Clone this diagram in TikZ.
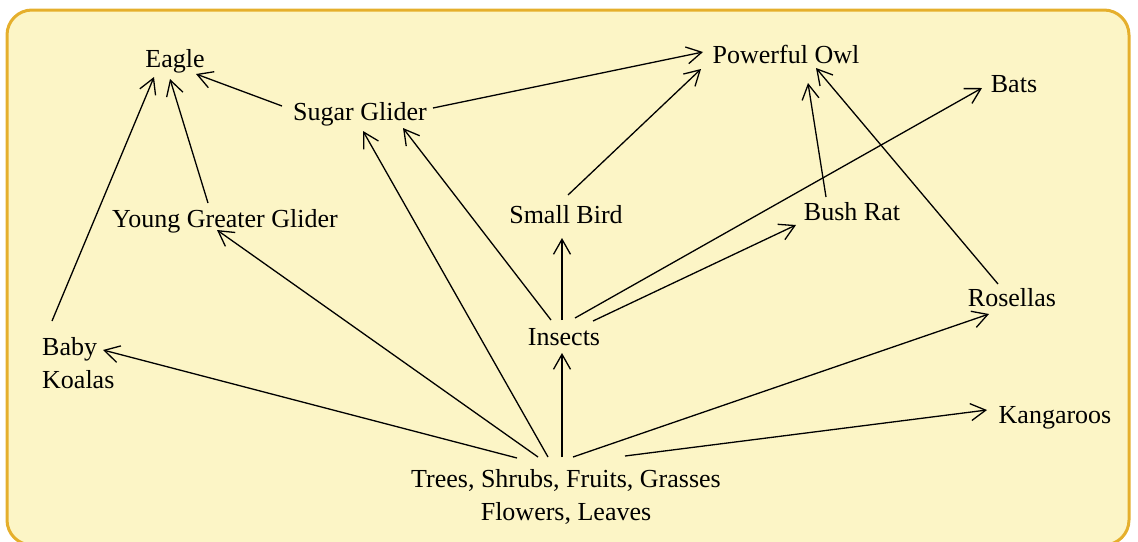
\documentclass[tikz,border=0pt]{standalone}
\usepackage{fontspec}
\setmainfont{Liberation Serif}
\usetikzlibrary{arrows.meta, calc}
\definecolor{fwfill}{HTML}{FCF5C6}
\definecolor{fwedge}{HTML}{E5AF2C}

\begin{document}
\begin{tikzpicture}[x=1pt, y=-1pt,
          lab/.style={font=\fontsize{26}{33}\selectfont, inner sep=0pt, anchor=base},
          arw/.style={-{Straight Barb[length=15pt,width=17pt]}, line width=1.3pt}]
        \clip (0,0) rectangle (1138,541);
        \draw[fwedge, fill=fwfill, line width=3pt, rounded corners=25pt] (7,10) rectangle (1129,545);
        \node[lab] (e) at (175,67) {Eagle};
        \node[lab] (sg) at (360,120) {Sugar Glider};
        \node[lab] (po) at (786,63) {Powerful Owl};
        \node[lab] (ba) at (1014,92) {Bats};
        \node[lab] (ygg) at (225,227) {Young Greater Glider};
        \node[lab] (sb) at (566,223) {Small Bird};
        \node[lab] (br) at (852,220) {Bush Rat};
        \node[lab] (ins) at (564,345) {Insects};
        \node[lab] (ro) at (1012,306) {Rosellas};
        \node[lab] (ka) at (1055,423) {Kangaroos};
        \node[lab, anchor=north west, align=left] (bk) at (42,337) {Baby\\Koalas};
        \node[lab, anchor=north, align=center] (tr) at (566,469) {Trees, Shrubs, Fruits, Grasses\\Flowers, Leaves};
        \draw[arw] ($(bk.north west)+(10,-16)$)--($(e.base)+(-21,10)$);
        \draw[arw] ($(ygg.base)+(-17,-24)$)--($(e.base)+(-5,12)$);
        \draw[arw] ($(sg.base)+(-78,-14)$)--($(e.base)+(21,7)$);
        \draw[arw] ($(sg.base)+(73,-12)$)--($(po.base)+(-83,-11)$);
        \draw[arw] ($(sb.base)+(2,-28)$)--($(po.base)+(-85,6)$);
        \draw[arw] ($(br.base)+(-26,-23)$)--($(po.base)+(22,20)$);
        \draw[arw] ($(ro.base)+(-14,-22)$)--($(po.base)+(30,5)$);
        \draw[arw] ($(ins.base)+(11,-27)$)--($(ba.base)+(-32,-4)$);
        \draw[arw] ($(ins.base)+(29,-24)$)--($(br.base)+(-56,5)$);
        \draw[arw] ($(ins.base)+(-2,-25)$)--($(sb.base)+(-4,15)$);
        \draw[arw] ($(ins.base)+(-13,-25)$)--($(sg.base)+(43,8)$);
        \draw[arw] ($(tr.north)+(-4,-12)$)--($(ins.base)+(-2,8)$);
        \draw[arw] ($(tr.north)+(-18,-12)$)--($(sg.base)+(3,11)$);
        \draw[arw] ($(tr.north)+(-28,-12)$)--($(ygg.base)+(-8,3)$);
        \draw[arw] ($(tr.north)+(-49,-11)$)--($(bk.north west)+(61,13)$);
        \draw[arw] ($(tr.north)+(7,-12)$)--($(ro.base)+(-23,8)$);
        \draw[arw] ($(tr.north)+(59,-13)$)--($(ka.base)+(-68,-13)$);
      \end{tikzpicture}
\end{document}
